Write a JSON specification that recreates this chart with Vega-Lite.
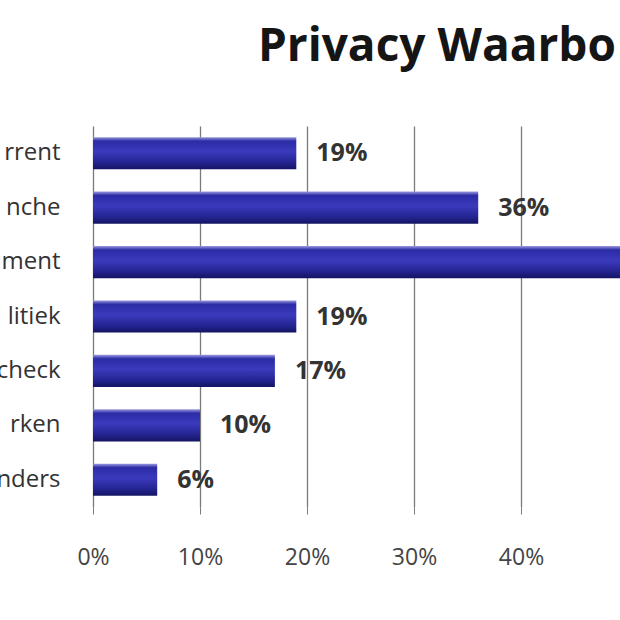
{
  "$schema": "https://vega.github.io/schema/vega-lite/v6.json",
  "autosize": {"type": "none"},
  "padding": {"left": 93, "top": 126, "right": 0, "bottom": 113},
  "width": 527,
  "height": 381,
  "background": "white",
  "title": {
    "text": "Privacy Waarbo",
    "anchor": "start",
    "dx": 262,
    "font": "Open Sans",
    "fontSize": 46,
    "fontWeight": "bold",
    "color": "#151515",
    "offset": 55
  },
  "data": {
    "values": [
      {"item": "rrent", "share": 0.19},
      {"item": "nche", "share": 0.36},
      {"item": "ment", "share": 0.53},
      {"item": "litiek", "share": 0.19},
      {"item": "check", "share": 0.17},
      {"item": "rken", "share": 0.10},
      {"item": "nders", "share": 0.06}
    ]
  },
  "encoding": {
    "y": {
      "field": "item",
      "type": "nominal",
      "sort": null,
      "title": null,
      "scale": {"paddingInner": 0.41, "paddingOuter": 0.205},
      "axis": {
        "ticks": false,
        "domain": false,
        "labelFont": "Open Sans",
        "labelFontSize": 24,
        "labelColor": "#333333",
        "labelPadding": 33
      }
    },
    "x": {
      "field": "share",
      "type": "quantitative",
      "title": null,
      "scale": {"domain": [0, 0.4925], "nice": false, "zero": true},
      "axis": {
        "format": ".0%",
        "values": [0, 0.1, 0.2, 0.3, 0.4, 0.5],
        "grid": true,
        "gridColor": "#7a7a7a",
        "gridWidth": 1.3,
        "domain": false,
        "tickSize": 7,
        "tickColor": "#7a7a7a",
        "labelFont": "Open Sans",
        "labelFontSize": 23,
        "labelColor": "#444444",
        "labelPadding": 32,
        "labelFlush": false
      }
    }
  },
  "layer": [
    {
      "mark": {
        "type": "bar",
        "clip": true,
        "color": {
          "gradient": "linear",
          "x1": 0, "y1": 0, "x2": 0, "y2": 1,
          "stops": [
            {"offset": 0, "color": "#9a9ae0"},
            {"offset": 0.12, "color": "#2c2ca6"},
            {"offset": 0.45, "color": "#3a3abd"},
            {"offset": 0.8, "color": "#23238f"},
            {"offset": 1, "color": "#141462"}
          ]
        }
      }
    },
    {
      "mark": {
        "type": "text",
        "clip": true,
        "align": "left",
        "baseline": "middle",
        "dx": 20,
        "font": "Open Sans",
        "fontSize": 25,
        "fontWeight": "bold",
        "color": "#333333"
      },
      "encoding": {
        "text": {"field": "share", "type": "quantitative", "format": ".0%"}
      }
    }
  ],
  "config": {
    "view": {"stroke": null}
  }
}
